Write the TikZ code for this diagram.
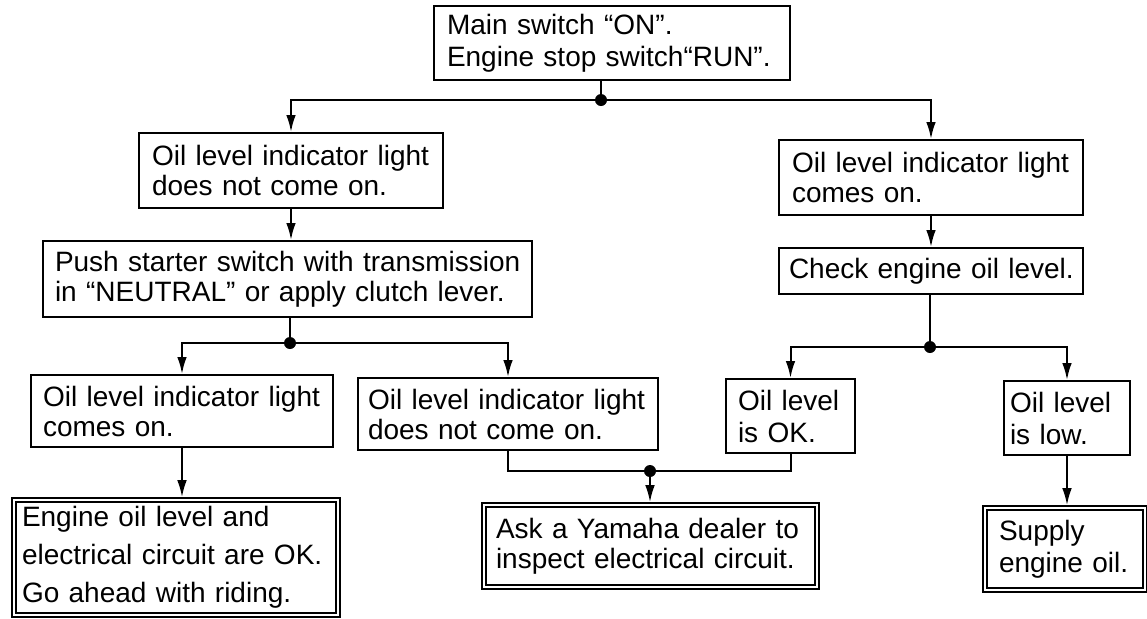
\documentclass[tikz,border=0pt]{standalone}
\usepackage{fontspec}
\setmainfont{Liberation Sans}
\usetikzlibrary{arrows.meta}
\tikzset{
  box/.style={draw, line width=1pt, inner xsep=6.5pt, inner ysep=0pt, align=left,
    font=\fontsize{14pt}{15pt}\selectfont, anchor=center},
  dbox/.style={box, double, line width=0.8pt, double distance=1.2pt},
  conn/.style={line width=1pt},
  arr/.style={conn, -{Latex[length=8.5pt,width=4.8pt]}},
  jdot/.style={circle, fill, inner sep=0pt, minimum size=6pt},
}
\begin{document}
\begin{tikzpicture}[x=0.5pt, y=-0.5pt]
\useasboundingbox (0,0) rectangle (1147,618);

% boxes
\node[box, minimum width=178pt, minimum height=37pt, text width=165pt,
  font={\fontsize{14pt}{16pt}\selectfont}] (top) at (612,43)
  {\mbox{Main switch “ON”.}\\\mbox{Engine stop switch“RUN”.}};
\node[box, minimum width=152pt, minimum height=37.5pt, text width=139pt] (L1) at (291,170.5)
  {\mbox{Oil level indicator light}\\\mbox{does not come on.}};
\node[box, minimum width=152pt, minimum height=37.5pt, text width=139pt] (R1) at (931,177.5)
  {\mbox{Oil level indicator light}\\\mbox{comes on.}};
\node[box, minimum width=152pt, minimum height=23pt, inner xsep=5pt, text width=142pt] (chk) at (931,271)
  {\mbox{Check engine oil level.}};
\node[box, minimum width=244.5pt, minimum height=38pt, inner xsep=6pt, text width=232.5pt] (push) at (287.5,279)
  {\mbox{Push starter switch with transmission}\\\mbox{in “NEUTRAL” or apply clutch lever.}};
\node[box, minimum width=151pt, minimum height=36pt, inner xsep=6pt, text width=139pt] (Lc) at (182,411)
  {\mbox{Oil level indicator light}\\\mbox{comes on.}};
\node[box, minimum width=150pt, minimum height=36pt, inner xsep=5pt, text width=140pt] (mid) at (508,414)
  {\mbox{Oil level indicator light}\\\mbox{does not come on.}};
\node[box, minimum width=64.5pt, minimum height=37pt, inner xsep=6pt, text width=52.5pt,
  font={\fontsize{14pt}{16pt}\selectfont}] (ok) at (790.5,416)
  {\mbox{Oil level}\\\mbox{is OK.}};
\node[box, minimum width=63pt, minimum height=37pt, inner xsep=3pt, text width=57pt,
  font={\fontsize{14pt}{16pt}\selectfont}] (low) at (1067,418)
  {\mbox{Oil level}\\\mbox{is low.}};
\node[dbox, minimum width=162pt, minimum height=57.5pt, inner xsep=4pt, text width=154pt,
  font={\fontsize{14pt}{19pt}\selectfont}] (fin) at (176,557.5)
  {\mbox{Engine oil level and}\\\mbox{electrical circuit are OK.}\\\mbox{Go ahead with riding.}};
\node[dbox, minimum width=166.5pt, minimum height=41pt, inner xsep=6pt, text width=154.5pt] (ask) at (650.5,546)
  {\mbox{Ask a Yamaha dealer to}\\\mbox{inspect electrical circuit.}};
\node[dbox, minimum width=80pt, minimum height=41pt, inner xsep=7pt, text width=66pt,
  font={\fontsize{14pt}{16pt}\selectfont}] (sup) at (1065,549)
  {\mbox{Supply}\\\mbox{engine oil.}};

% junction points
\coordinate (j1) at (601,100);
\coordinate (j2) at (290,343);
\coordinate (j3) at (930,347);
\coordinate (j4) at (650,471);

% connectors
\draw[conn] (top.south -| j1) -- (j1);
\draw[arr] (j1) -| (L1.north);
\draw[arr] (j1) -| (R1.north);
\draw[arr] (R1.south) -- (chk.north);
\draw[arr] (L1.south) -- (L1.south |- push.north);
\draw[conn] (push.south -| j2) -- (j2);
\draw[arr] (j2) -| (Lc.north);
\draw[arr] (j2) -| (mid.north);
\draw[conn] (chk.south -| j3) -- (j3);
\draw[arr] (j3) -| (ok.north);
\draw[arr] (j3) -| (low.north);
\draw[arr, shorten >=1pt] (Lc.south) -- (Lc.south |- fin.north);
\draw[conn] (mid.south) |- (j4) -| (ok.south);
\draw[arr, shorten >=1pt] (j4) -- (j4 |- ask.north);
\draw[arr, shorten >=1pt] (low.south) -- (low.south |- sup.north);

% junction dots
\node[jdot] (d1) at (j1) {};
\node[jdot] (d2) at (j2) {};
\node[jdot] (d3) at (j3) {};
\node[jdot] (d4) at (j4) {};
\end{tikzpicture}
\end{document}
